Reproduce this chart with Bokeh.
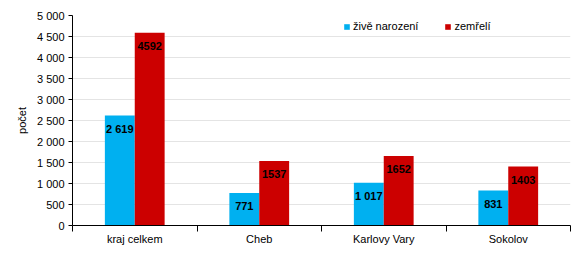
from bokeh.plotting import figure
from bokeh.models import ColumnDataSource, FixedTicker, Legend, LegendItem
from bokeh.core.properties import value
from bokeh.embed import file_html
from bokeh.resources import INLINE

categories = ["kraj celkem", "Cheb", "Karlovy Vary", "Sokolov"]
zive_narozeni = [2619, 771, 1017, 831]
zemreli = [4592, 1537, 1652, 1403]
zive_labels = ["2 619", "771", "1 017", "831"]
zemreli_labels = ["4592", "1537", "1652", "1403"]
y_ticks = [0, 500, 1000, 1500, 2000, 2500, 3000, 3500, 4000, 4500, 5000]
y_tick_labels = ["0", "500", "1 000", "1 500", "2 000", "2 500", "3 000", "3 500", "4 000", "4 500", "5 000"]

BLUE = "#00B0F0"
RED = "#CC0000"
FONT = "Liberation Sans"

n = len(categories)
centers = [i + 0.5 for i in range(n)]
bw = 0.24
src_b = ColumnDataSource(dict(x=[c - bw / 2 for c in centers], top=zive_narozeni, lab=zive_labels))
src_r = ColumnDataSource(dict(x=[c + bw / 2 for c in centers], top=zemreli, lab=zemreli_labels))

p = figure(width=580, height=262, x_range=(0, n), y_range=(0, 5000),
           output_backend="svg", toolbar_location=None,
           min_border_left=72, min_border_right=10, min_border_top=15, min_border_bottom=37)
p.outline_line_color = None
p.background_fill_color = "white"

rb = p.vbar(x="x", top="top", width=bw, source=src_b, color=BLUE, line_color=None)
rr = p.vbar(x="x", top="top", width=bw, source=src_r, color=RED, line_color=None)

for src in (src_b, src_r):
    p.text(x="x", y="top", text="lab", source=src, text_font=value(FONT), text_font_size="11px",
           text_font_style="bold", text_color="black", text_align="center", text_baseline="middle",
           y_offset=13)

# x axis
p.xaxis.ticker = FixedTicker(ticks=centers, minor_ticks=list(range(n + 1)))
p.xaxis.major_label_overrides = {c: cat for c, cat in zip(centers, categories)}
p.xaxis.major_tick_out = 0
p.xaxis.major_tick_in = 0
p.xaxis.minor_tick_out = 6
p.xaxis.minor_tick_in = 0
p.xaxis.minor_tick_line_color = "black"
p.xaxis.axis_line_color = "black"
p.xaxis.major_label_standoff = 1
p.xaxis.major_label_text_font = FONT
p.xaxis.major_label_text_font_size = "11px"
p.xaxis.major_label_text_color = "black"
p.xgrid.grid_line_color = None

# y axis
p.yaxis.ticker = FixedTicker(ticks=y_ticks, minor_ticks=[])
p.yaxis.major_label_overrides = {t: l for t, l in zip(y_ticks, y_tick_labels)}
p.yaxis.major_tick_out = 4
p.yaxis.major_tick_in = 0
p.yaxis.major_tick_line_color = "black"
p.yaxis.axis_line_color = "black"
p.yaxis.major_label_standoff = 4
p.yaxis.major_label_text_font = FONT
p.yaxis.major_label_text_font_size = "11px"
p.yaxis.major_label_text_color = "black"
p.yaxis.axis_label = "počet"
p.yaxis.axis_label_text_font = FONT
p.yaxis.axis_label_text_font_size = "11px"
p.yaxis.axis_label_text_font_style = "normal"
p.yaxis.axis_label_text_color = "black"
p.yaxis.axis_label_standoff = 6
p.ygrid.grid_line_color = "#E4E4E4"
p.ygrid.grid_line_width = 1

legend = Legend(items=[LegendItem(label="živě narození", renderers=[rb]),
                       LegendItem(label="zemřelí", renderers=[rr])],
                orientation="horizontal", location=(271, 193))
legend.label_text_font = FONT
legend.label_text_font_size = "11px"
legend.label_text_color = "black"
legend.glyph_width = 7
legend.glyph_height = 7
legend.label_standoff = 3
legend.spacing = 26
legend.padding = 0
legend.margin = 0
legend.border_line_color = None
legend.background_fill_alpha = 0
legend.label_height = 12
p.add_layout(legend, "center")

open("out.html", "w").write(file_html(p, INLINE))
